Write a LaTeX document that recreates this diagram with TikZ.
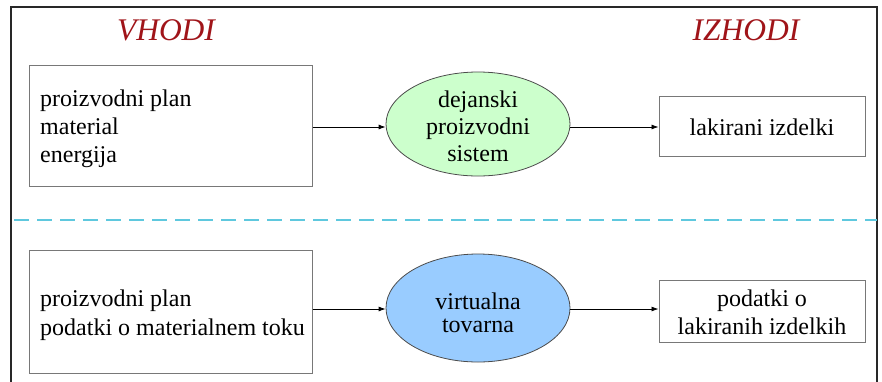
\documentclass[tikz,border=0pt]{standalone}
\usepackage{fontspec}
\setmainfont{Liberation Serif}
\usetikzlibrary{shapes.geometric,arrows.meta}
\definecolor{framecol}{RGB}{40,40,40}
\definecolor{boxcol}{RGB}{120,120,120}
\definecolor{titlecol}{RGB}{160,20,25}
\definecolor{dashcol}{RGB}{95,200,222}
\definecolor{greenfill}{RGB}{204,255,204}
\definecolor{bluefill}{RGB}{153,204,255}
\tikzset{
  txt/.style={inner sep=0pt, font=\fontsize{24}{28}\selectfont},
  box/.style={draw=boxcol, line width=1pt, rectangle, inner sep=0pt},
  proc/.style={draw=black!70, line width=0.8pt, ellipse, inner sep=0pt, minimum width=184pt},
  arr/.style={draw=black, line width=0.8pt, -{Latex[length=7pt,width=5pt]}},
  title/.style={inner sep=0pt, anchor=base, font=\fontsize{31.5}{31.5}\selectfont\itshape, text=titlecol},
}
\begin{document}
\begin{tikzpicture}[x=1pt,y=-1pt]
\useasboundingbox (0,0) rectangle (882,381);
\fill[white] (0,0) rectangle (882,381);
% frame
\draw[framecol, line width=2.5pt] (11,390) -- (11,7) -- (877,7) -- (877,390);
% titles
\node[title] (vhodi) at (166,40) {VHODI};
\node[title] (izhodi) at (746,40) {IZHODI};
% upper row
\node[box, minimum width=283pt, minimum height=121pt] (b1) at (170.5,125.5) {};
\node[txt, align=left, anchor=west] (t1) at (40,128.4) {proizvodni plan\\material\\energija};
\node[proc, fill=greenfill, minimum height=104pt] (e1) at (478,124) {};
\node[txt, align=center, font=\fontsize{24}{27}\selectfont] (te1) at (478,126.6) {dejanski\\proizvodni\\sistem};
\node[box, minimum width=206pt, minimum height=60pt] (o1) at (762,126) {};
\node[txt, anchor=base] (to1) at (762,135) {lakirani izdelki};
\draw[arr] (b1.east |- 0,127) coordinate (a1) -- (e1.west |- a1);
\draw[arr] (e1.east |- 0,127) -- (o1.west |- 0,127);
% separator
\draw[dashcol, line width=2.5pt, dash pattern=on 15pt off 8pt] (14,220) -- (877,220);
% lower row
\node[box, minimum width=283pt, minimum height=123pt] (b2) at (170.5,311.5) {};
\node[txt, align=left, anchor=west, font=\fontsize{24}{29}\selectfont] (t2) at (40,315) {proizvodni plan\\podatki o materialnem toku};
\node[proc, fill=bluefill, minimum height=108pt] (e2) at (478,308) {};
\node[txt, align=center, font=\fontsize{24}{23.5}\selectfont] (te2) at (478,313) {virtualna\\tovarna};
\node[box, minimum width=206pt, minimum height=62pt] (o2) at (762,311) {};
\node[txt, align=center] (to2) at (762,312.7) {podatki o\\lakiranih izdelkih};
\draw[arr] (b2.east |- 0,309) -- (e2.west |- 0,309);
\draw[arr] (e2.east |- 0,309) -- (o2.west |- 0,309);
\end{tikzpicture}
\end{document}
